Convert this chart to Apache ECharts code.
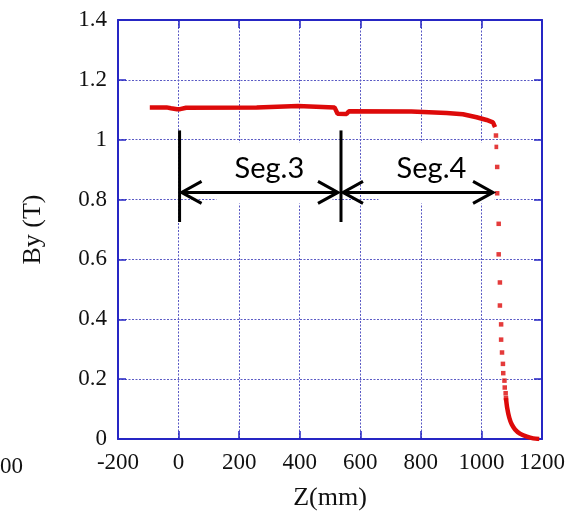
<!DOCTYPE html>
<html>
<head>
<meta charset="utf-8">
<script src="https://cdn.jsdelivr.net/npm/echarts@6/dist/echarts.min.js"></script>
<style>
html,body{margin:0;padding:0;background:#fff;}
#c{width:568px;height:516px;}
</style>
</head>
<body>
<div id="c"></div>
<script>
// ---- data ----
var xTickLabels = ['-200','0','200','400','600','800','1000','1200'];
var yTickLabels = ['0','0.2','0.4','0.6','0.8','1','1.2','1.4'];

// continuous (dense) part of the By profile
var flatZ  = [-95, -40, -25, -5, 0, 5, 25, 30, 258, 262, 394, 398, 515, 525, 555, 562, 769, 775, 885, 890, 939, 984, 1017, 1038, 1045];
var flatBy = [1.108, 1.108, 1.105, 1.102, 1.097, 1.102, 1.107, 1.108, 1.108, 1.113, 1.113, 1.108, 1.108, 1.087, 1.086, 1.095, 1.094, 1.090, 1.089, 1.086, 1.085, 1.075, 1.066, 1.058, 1.042];

// sparse points on the falling edge
var edgeZ  = [1048, 1048, 1052, 1052, 1057, 1057, 1061, 1061, 1065, 1065, 1068, 1071, 1072, 1076, 1077, 1080, 1081];
var edgeBy = [1.014, 0.976, 0.909, 0.821, 0.719, 0.617, 0.523, 0.446, 0.383, 0.332, 0.289, 0.251, 0.220, 0.195, 0.172, 0.153, 0.137];

// dense tail
var tailZ  = [1081, 1085, 1092, 1100, 1111, 1127, 1150, 1171, 1191];
var tailBy = [0.137, 0.104, 0.071, 0.049, 0.032, 0.018, 0.008, 0.002, 0.0];

// segment annotations
var segBounds = [0, 533, 1045];
var segNames = ['Seg.3', 'Seg.4'];
var segTextZ = [300, 835];
var arrowBy = 0.824;
var barTop = 1.031, barBottom = 0.725;
var textBy = 0.854;

function zip(a, b) { return a.map(function (v, i) { return [v, b[i]]; }); }

var axisColor = '#2626c4';
var gridColor = '#5a5ac4';
var serif = '"Liberation Serif", "Times New Roman", serif';
var chart = echarts.init(document.getElementById('c'), null, {renderer: 'canvas'});

var tickStyle = {show: true, inside: true, length: 8, lineStyle: {color: axisColor, width: 1.5}};
var option = {
  backgroundColor: '#fff',
  animation: false,
  grid: {left: 118, right: 26, top: 20, bottom: 73, containLabel: false},
  xAxis: [{
    type: 'value', min: -200, max: 1200, interval: 200,
    name: 'Z(mm)', nameLocation: 'middle', nameGap: 46,
    nameTextStyle: {fontFamily: serif, fontSize: 26, color: '#111'},
    axisLine: {show: true, onZero: false, lineStyle: {color: axisColor, width: 2}},
    axisTick: tickStyle,
    axisLabel: {margin: 12, fontFamily: serif, fontSize: 23, color: '#111',
      formatter: function (v) { return xTickLabels[Math.round((v + 200) / 200)]; }},
    splitLine: {show: true, lineStyle: {color: gridColor, type: [2, 1.5], width: 1}}
  }, {
    type: 'value', min: -200, max: 1200, interval: 200, position: 'top',
    axisLine: {show: true, onZero: false, lineStyle: {color: axisColor, width: 2}},
    axisTick: tickStyle, axisLabel: {show: false}, splitLine: {show: false}
  }],
  yAxis: [{
    type: 'value', min: 0, max: 1.4, interval: 0.2,
    name: 'By (T)', nameLocation: 'middle', nameGap: 72, nameRotate: 90,
    nameTextStyle: {fontFamily: serif, fontSize: 26, color: '#111'},
    axisLine: {show: true, onZero: false, lineStyle: {color: axisColor, width: 2}},
    axisTick: tickStyle,
    axisLabel: {margin: 11, fontFamily: serif, fontSize: 23, color: '#111',
      formatter: function (v) { return yTickLabels[Math.round(v / 0.2)]; }},
    splitLine: {show: true, lineStyle: {color: gridColor, type: [2, 1.5], width: 1}}
  }, {
    type: 'value', min: 0, max: 1.4, interval: 0.2, position: 'right',
    axisLine: {show: true, onZero: false, lineStyle: {color: axisColor, width: 2}},
    axisTick: tickStyle, axisLabel: {show: false}, splitLine: {show: false}
  }],
  series: [{
    type: 'line', data: zip(flatZ, flatBy), symbol: 'none',
    lineStyle: {color: '#dd0a0a', width: 4.5}, z: 5
  }, {
    type: 'scatter', data: zip(edgeZ, edgeBy), symbol: 'rect', symbolSize: 4.5,
    itemStyle: {color: '#dd0a0a'}, z: 5
  }, {
    type: 'line', data: zip(tailZ, tailBy), symbol: 'none', smooth: 0.3,
    lineStyle: {color: '#dd0a0a', width: 4.5}, z: 5
  }]
};
chart.setOption(option);

function px(z, b) { return chart.convertToPixel({gridIndex: 0}, [z, b]); }

var g = [];
var lw = 3;
// white boxes behind the labels
segNames.forEach(function (name, i) {
  var t = px(segTextZ[i], textBy);
  g.push({type: 'rect', shape: {x: t[0] - 53, y: t[1] - 41, width: 116, height: 61},
    style: {fill: '#fff'}, z: 10});
});
// vertical bars
[segBounds[0], segBounds[1]].forEach(function (z) {
  var a = px(z, barTop), b = px(z, barBottom);
  g.push({type: 'line', shape: {x1: a[0] + 1, y1: a[1], x2: b[0] + 1, y2: b[1]},
    style: {stroke: '#000', lineWidth: lw}, z: 20});
});
// arrows
for (var i = 0; i < 2; i++) {
  var L = px(segBounds[i], arrowBy), R = px(segBounds[i + 1], arrowBy);
  var x1 = L[0] + 3, x2 = R[0] - 2, y = L[1];
  g.push({type: 'line', shape: {x1: x1, y1: y, x2: x2, y2: y}, style: {stroke: '#000', lineWidth: lw}, z: 20});
  g.push({type: 'polyline', shape: {points: [[x1 + 20, y - 11], [x1, y], [x1 + 20, y + 11]]},
    style: {stroke: '#000', lineWidth: lw, fill: null}, z: 20});
  g.push({type: 'polyline', shape: {points: [[x2 - 20, y - 11], [x2, y], [x2 - 20, y + 11]]},
    style: {stroke: '#000', lineWidth: lw, fill: null}, z: 20});
  var t = px(segTextZ[i], textBy);
  g.push({type: 'text', x: t[0], y: t[1], style: {text: segNames[i], fontFamily: 'Lato, "Open Sans", sans-serif',
    fontSize: 29, fill: '#000', textAlign: 'center', textVerticalAlign: 'bottom'}, z: 21});
}
// fragment of neighbouring tick label at the far left
g.push({type: 'text', left: 0, top: 455, style: {text: '00', fontFamily: serif, fontSize: 23, fill: '#111'}, z: 21});

chart.setOption({graphic: g});
</script>
</body>
</html>
